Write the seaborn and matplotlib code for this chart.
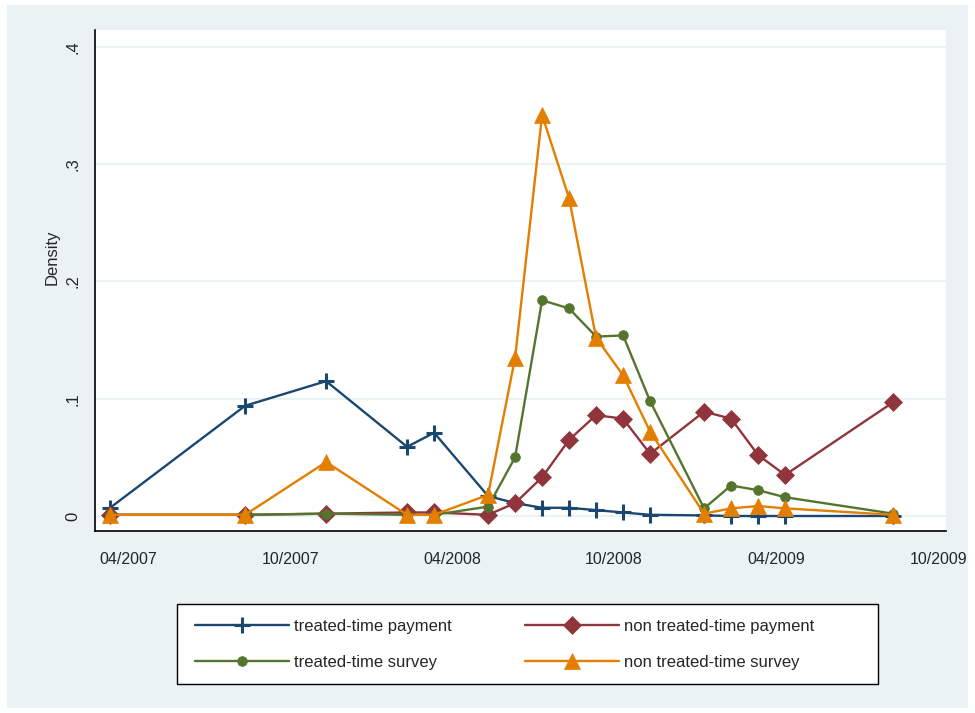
import numpy as np
import pandas as pd
import matplotlib
matplotlib.use("Agg")
import matplotlib.pyplot as plt
import seaborn as sns
from matplotlib.patches import Rectangle
from matplotlib.transforms import ScaledTranslation

# --- data (monthly) ---
months = ["2007-04", "2007-09", "2007-12", "2008-03", "2008-04", "2008-06",
          "2008-07", "2008-08", "2008-09", "2008-10", "2008-11", "2008-12",
          "2009-02", "2009-03", "2009-04", "2009-05", "2009-09"]
treated_payment = [.007, .094, .115, .059, .071, .017, .011, .007, .007, .005,
                   .003, .001, .0005, 0, 0, 0, 0]
nontreated_payment = [.001, .001, .002, .003, .003, .001, .011, .033, .065, .086,
                      .083, .053, .089, .083, .052, .035, .097]
treated_survey = [.001, .001, .002, .001, .001, .008, .050, .184, .177, .153,
                  .154, .098, .0065, .026, .022, .016, .002]
nontreated_survey = [.001, .001, .046, .001, .001, .018, .135, .342, .271, .152,
                     .120, .072, .002, .0065, .0085, .0065, .001]

tick_months = ["2007-04", "2007-10", "2008-04", "2008-10", "2009-04", "2009-10"]
y_ticks = [0, .1, .2, .3, .4]
y_ticklabels = ["0", ".1", ".2", ".3", ".4"]

labels = ["treated-time payment", "non treated-time payment",
          "treated-time survey", "non treated-time survey"]
colors = ["#1A476F", "#90353B", "#55752F", "#E37E00"]
markers = ["+", "D", "o", "^"]
msizes = [11, 9, 7, 11.5]
mews = [2.2, 0.5, 0.5, 0.5]

base = pd.Period("2007-04", freq="M")
def month_idx(s):
    return (pd.Period(s, freq="M") - base).n

rows = []
for lab, vals in zip(labels, [treated_payment, nontreated_payment,
                              treated_survey, nontreated_survey]):
    for mo, v in zip(months, vals):
        rows.append({"series": lab, "month": month_idx(mo), "density": v})
df = pd.DataFrame(rows)

sns.set_style("white")
plt.rcParams["font.family"] = ["Liberation Sans Narrow", "Liberation Sans", "DejaVu Sans"]

bg = "#EAF2F3"
W, H = 975, 713
fig = plt.figure(figsize=(9.75, 7.13), dpi=100, facecolor="white")
fig.patches.append(Rectangle((7 / W, 5 / H), 961 / W, 703 / H,
                             transform=fig.transFigure, facecolor=bg,
                             edgecolor="none", zorder=-10))
ax = fig.add_axes([95 / W, 1 - 531 / H, 851 / W, 501 / H])
ax.set_facecolor("white")

for i, lab in enumerate(labels):
    sub = df[df["series"] == lab]
    sns.lineplot(data=sub, x="month", y="density", ax=ax, color=colors[i],
                 marker=markers[i], markersize=msizes[i], markeredgewidth=mews[i],
                 markeredgecolor=colors[i], linewidth=1.7, legend=False,
                 label=lab, zorder=3 + i)

ax.set_xlim(-0.56, 30.96)
ax.set_ylim(-0.0128, 0.4145)
ax.set_xticks([month_idx(t) for t in tick_months])
ax.set_xticklabels([pd.Period(t, freq="M").strftime("%m/%Y") for t in tick_months],
                   fontsize=11.5)
ax.set_yticks(y_ticks)
ax.set_yticklabels(y_ticklabels, rotation=90, va="center", fontsize=12)
ax.tick_params(axis="x", length=7.2, width=1, color="#555555", pad=8)
ax.tick_params(axis="y", length=7.2, width=1, color="black", pad=3)
# labels sit a little to the right of their ticks in the original
for t in ax.get_xticklabels():
    t.set_transform(t.get_transform() + ScaledTranslation(18 / 100, 0, fig.dpi_scale_trans))
ax.yaxis.grid(True, color=bg, linewidth=1.5)
ax.set_axisbelow(True)
ax.set_xlabel("")
ax.set_ylabel("")
fig.text(52 / W, 1 - 257 / H, "Density", rotation=90, ha="center", va="center",
         fontsize=12)
for s in ["top", "right"]:
    ax.spines[s].set_visible(False)
for s in ["left", "bottom"]:
    ax.spines[s].set_color("black")
    ax.spines[s].set_linewidth(1.2)

# legend: white box with black frame, two columns
fig.patches.append(Rectangle((177 / W, 1 - 684 / H), 701 / W, 80 / H,
                             transform=fig.transFigure, facecolor="white",
                             edgecolor="black", linewidth=1.0, zorder=1))
h = ax.get_lines()[:4]
order = [0, 2, 1, 3]
leg = fig.legend([h[k] for k in order], [labels[k] for k in order], ncol=2,
                 loc="center left", bbox_to_anchor=(187 / W, 1 - 644.5 / H),
                 frameon=False, fontsize=12, handlelength=5.64, numpoints=1,
                 borderpad=0, labelspacing=1.25, handletextpad=0.3,
                 columnspacing=4.4)
leg.set_zorder(5)

fig.savefig("out.png", dpi=100, facecolor=fig.get_facecolor())
